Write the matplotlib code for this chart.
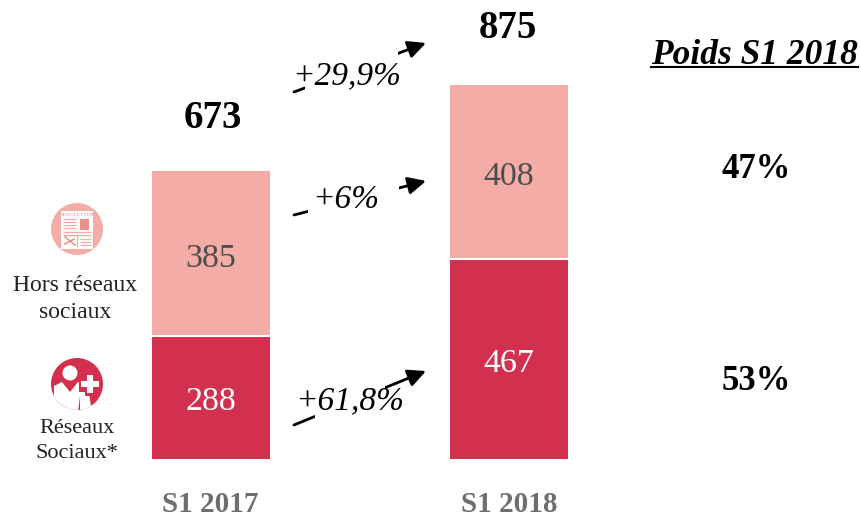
import matplotlib
matplotlib.use('Agg')
import matplotlib.pyplot as plt
from matplotlib.patches import Circle, Rectangle, Polygon

# donnees
periods = ['S1 2017', 'S1 2018']
social = [288, 467]
non_social = [385, 408]
totals = [673, 875]
growth = ['+61,8%', '+6%', '+29,9%']
weights = ['53%', '47%']

W, H = 861, 516
RED = '#d32f4f'
PINK = '#f3aca6'

plt.rcParams['font.family'] = ['Liberation Serif', 'DejaVu Serif']

fig = plt.figure(figsize=(W / 100, H / 100), dpi=100)
bg = fig.add_axes([0, 0, 1, 1])
bg.set_xlim(0, W)
bg.set_ylim(H, 0)
bg.axis('off')

# axe des barres, echelle calee sur les pixels: base y=459, 875 -> y=85
ax = fig.add_axes([0, (H - 459) / H, 1, (459 - 85) / H])
ax.set_xlim(0, W)
ax.set_ylim(0, 875)
ax.axis('off')
ax.patch.set_alpha(0)

x_pos = [211, 509]
ax.bar(x_pos, social, width=118, color=RED, linewidth=0)
ax.bar(x_pos, non_social, width=118, bottom=social, color=PINK, linewidth=0)
for x, s in zip(x_pos, social):
    ax.plot([x - 59, x + 59], [s, s], color='white', lw=1.5, solid_capstyle='butt')

for x, s, n in zip(x_pos, social, non_social):
    ax.annotate(str(s), (x, s / 2), xytext=(0, -3), textcoords='offset points',
                ha='center', va='center', fontsize=24.5, color='white')
    ax.annotate(str(n), (x, s + n / 2), xytext=(0, -3.5), textcoords='offset points',
                ha='center', va='center', fontsize=24.5, color='#4d4d4d')

# totaux et periodes
for x, y, t in zip([213, 508], [118, 28], totals):
    bg.text(x, y, str(t), ha='center', va='center', fontsize=28, fontweight='bold', color='black')
for x, p in zip([210, 509], periods):
    bg.text(x, 504, p, ha='center', va='center', fontsize=21, fontweight='bold', color='#6e6e6e')

# fleches de croissance: depart, arrivee, centre du texte, zone masquee
arrows = [((294, 425), (426, 371), (350, 401), (315, 385)),
          ((294, 215), (426, 181), (346, 200), (308, 399)),
          ((294, 92), (426, 43), (347, 76), (305, 398))]
for (start, end, mid, gap), g in zip(arrows, growth):
    bg.annotate('', xy=end, xytext=start, zorder=3,
                arrowprops=dict(arrowstyle='-|>,head_length=0.45,head_width=0.22', color='black',
                                lw=2, mutation_scale=24, shrinkA=0, shrinkB=0))
    bg.add_patch(Rectangle((gap[0], min(start[1], end[1]) - 2), gap[1] - gap[0],
                           abs(start[1] - end[1]) + 4, facecolor='white', edgecolor='none', zorder=4))
    bg.text(mid[0], mid[1], g, ha='center', va='center', fontsize=24, style='italic',
            color='black', zorder=5)

# colonne de droite
bg.text(754, 55, 'Poids S1 2018', ha='center', va='center', fontsize=25.5, style='italic',
        fontweight='bold', color='black')
bg.plot([651, 858], [67, 67], color='black', lw=1.5)
for y, w in zip([382, 170], weights):
    bg.text(756, y, w, ha='center', va='center', fontsize=25, fontweight='bold', color='black')

# icone hors reseaux sociaux
bg.add_patch(Circle((77, 229), 26, color=PINK, lw=0, zorder=2))
bg.add_patch(Rectangle((61, 211), 32, 38, facecolor='white', edgecolor='none', zorder=3))
bg.text(77, 215, 'NEWSLETTER', ha='center', va='center', fontsize=3.6, fontweight='bold', color=PINK, zorder=4)
bg.hlines([219, 222, 225, 228], 63, 76, color=PINK, lw=0.9, zorder=4)
bg.add_patch(Rectangle((80, 219), 9, 11, color='#e9928c', lw=0, zorder=4))
bg.hlines([232, 235], 63, 91, color=PINK, lw=0.9, zorder=4)
bg.hlines([239, 242, 245], 80, 91, color=PINK, lw=0.9, zorder=4)
bg.plot([65, 75], [237, 245], color='#e9928c', lw=1.2, zorder=4)
bg.plot([65, 74], [244, 239], color='#e9928c', lw=1.2, zorder=4)
bg.plot([77, 77], [236, 246], color=PINK, lw=0.9, zorder=4)

# icone reseaux sociaux
disc = Circle((77, 384), 26, color=RED, lw=0, zorder=2)
bg.add_patch(disc)
bg.add_patch(Circle((70, 373), 7.5, color='white', lw=0, zorder=3))
body = Polygon([(54, 386), (62, 382), (70, 392), (78, 382), (88, 388), (92, 412),
                (80, 412), (80, 396), (78, 412), (54, 412)], closed=True,
               facecolor='white', edgecolor='none', zorder=3)
bg.add_patch(body)
body.set_clip_path(disc)
bg.add_patch(Rectangle((79, 377), 22, 15, color=RED, lw=0, zorder=3.5))
bg.add_patch(Rectangle((85, 372), 11, 24, color=RED, lw=0, zorder=3.5))
bg.add_patch(Rectangle((81, 381), 18, 6, color='white', lw=0, zorder=4))
bg.add_patch(Rectangle((87, 375), 6, 18, color='white', lw=0, zorder=4))

bg.text(75, 299, 'Hors réseaux\nsociaux', ha='center', va='center', fontsize=17, color='#222222', linespacing=1.4)
bg.text(77, 441, 'Réseaux\nSociaux*', ha='center', va='center', fontsize=16, color='#222222', linespacing=1.4)

fig.savefig('out.png', dpi=100)
